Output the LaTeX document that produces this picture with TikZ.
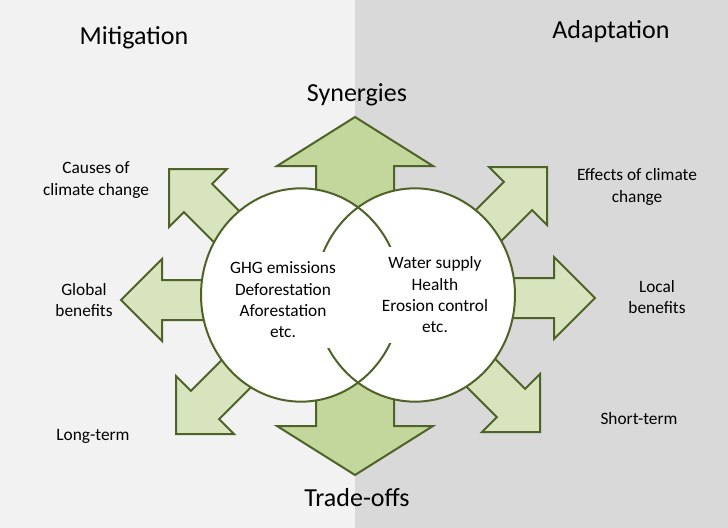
\documentclass[tikz,border=0pt]{standalone}
\usepackage{fontspec}
\setmainfont{Carlito}
\usepackage{tikz}
\usetikzlibrary{positioning}
\definecolor{olivedark}{HTML}{4F6228}
\definecolor{olivemid}{HTML}{C3D69B}
\definecolor{olivelight}{HTML}{D7E4BD}
\definecolor{bgleft}{HTML}{F2F2F2}
\definecolor{bgright}{HTML}{D9D9D9}
\tikzset{
	sidearrow/.style={draw=olivedark, fill=olivelight, line width=1.5pt, line join=miter},
	mainarrow/.style={draw=olivedark, fill=olivemid, line width=1.5pt, line join=miter},
	ring/.style={draw=olivedark, line width=1.5pt},
	heading/.style={font=\fontsize{19.5}{23}\selectfont, anchor=base, inner sep=0pt},
	sidetext/.style={font=\fontsize{13}{16}\selectfont, align=center, inner sep=0pt},
	innertext/.style={font=\fontsize{13}{16}\selectfont, align=center, fill=white,
		inner sep=2pt, minimum height=72pt},
}

\begin{document}
\begin{tikzpicture}[x=0.75pt, y=-0.75pt]
	\useasboundingbox (0,0) rectangle (728,528);
	\fill[bgleft] (0,0) rectangle (355,528);
	\fill[bgright] (355,0) rectangle (728,528);
	%
	% small arrows: tip x / tip y / direction
	\foreach \x/\y/\a in {169/169/135, 121/300/180, 176/434/225, 547/167/45, 595/298/0, 540/432/-45}
		\draw[sidearrow, shift={(\x,\y)}, rotate=\a] (0,0) -- (-41,41) -- (-41,20) -- (-130,20)
			-- (-130,-20) -- (-41,-20) -- (-41,-41) -- cycle;
	%
	\foreach \y/\a in {117/90, 475/-90}
		\draw[mainarrow, shift={(355,\y)}, rotate=\a] (0,0) -- (-49,78) -- (-49,39) -- (-180,39)
			-- (-180,-39) -- (-49,-39) -- (-49,-78) -- cycle;
	%
	\coordinate (mitc) at (301,295);
	\coordinate (adac) at (415,295);
	\fill[white] (mitc) ellipse [x radius=75pt, y radius=80pt];
	\fill[white] (adac) ellipse [x radius=75pt, y radius=80pt];
	\draw[ring] (mitc) ellipse [x radius=75pt, y radius=80pt];
	\draw[ring] (adac) ellipse [x radius=75pt, y radius=80pt];
	%
	\node[innertext] (mitlist) at (283,300) {GHG emissions\\Deforestation\\Aforestation\\etc.};
	\node[innertext] (adalist) at (435,295) {Water supply\\Health\\Erosion control\\etc.};
	%
	\node[heading] (mitig) at (134,45) {Mitigation};
	\node[heading] (adapt) at (611,39) {Adaptation};
	\node[heading] (syn) at (357,102) {Synergies};
	\node[heading] (trade) at (357,506) {Trade-offs};
	%
	\node[sidetext] (causes) at (96,180) {Causes of\\climate change};
	\node[sidetext] (global) at (84,300) {Global\\benefits};
	\node[sidetext] (longterm) at (93,436) {Long-term};
	\node[sidetext] (effects) at (637,187) {Effects of climate\\change};
	\node[sidetext] (local) at (657,297) {Local\\benefits};
	\node[sidetext] (shortterm) at (639,419) {Short-term};
\end{tikzpicture}
\end{document}
